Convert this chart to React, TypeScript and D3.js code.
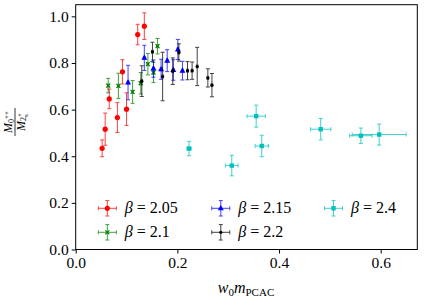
import React, { useEffect, useRef } from "react";
import * as d3 from "d3";

// values
const redX = [0.052, 0.058, 0.066, 0.082, 0.092, 0.1, 0.122, 0.135];
const redY = [0.434, 0.516, 0.646, 0.566, 0.762, 0.602, 0.922, 0.958];
const redErr = [0.036, 0.069, 0.042, 0.064, 0.052, 0.07, 0.044, 0.057];

const greenX = [0.064, 0.084, 0.112, 0.128, 0.142, 0.153, 0.161];
const greenY = [0.703, 0.702, 0.676, 0.713, 0.795, 0.759, 0.872];
const greenErr = [0.031, 0.054, 0.049, 0.046, 0.046, 0.043, 0.033];

const blueX = [0.103, 0.135, 0.153, 0.168, 0.18, 0.192, 0.201, 0.21];
const blueY = [0.716, 0.822, 0.776, 0.773, 0.81, 0.77, 0.858, 0.767];
const blueErr = [0.074, 0.054, 0.037, 0.043, 0.047, 0.044, 0.043, 0.04];

const blackX = [0.13, 0.151, 0.171, 0.191, 0.203, 0.22, 0.229, 0.239, 0.26, 0.268];
const blackY = [0.722, 0.848, 0.742, 0.765, 0.845, 0.767, 0.767, 0.785, 0.736, 0.705];
const blackErr = [0.066, 0.041, 0.104, 0.057, 0.037, 0.039, 0.037, 0.082, 0.039, 0.05];

const cyanX = [0.223, 0.307, 0.355, 0.366, 0.482, 0.561, 0.597];
const cyanY = [0.433, 0.36, 0.572, 0.444, 0.516, 0.488, 0.493];
const cyanErr = [0.031, 0.044, 0.047, 0.046, 0.046, 0.033, 0.045];
const cyanXErr = [0.004, 0.0125, 0.018, 0.013, 0.02, 0.022, 0.053];

const smallXErr = 0.0015;

const xTicks = [0, 0.2, 0.4, 0.6];
const yTicks = [0, 0.2, 0.4, 0.6, 0.8, 1.0];

const series = [
  { beta: "2.05", color: "#ff0000", marker: "o", x: redX, y: redY, ye: redErr, xe: null },
  { beta: "2.1", color: "#008000", marker: "x", x: greenX, y: greenY, ye: greenErr, xe: null },
  { beta: "2.15", color: "#0000ff", marker: "^", x: blueX, y: blueY, ye: blueErr, xe: null },
  { beta: "2.2", color: "#000000", marker: ".", x: blackX, y: blackY, ye: blackErr, xe: null },
  { beta: "2.4", color: "#00bfbf", marker: "s", x: cyanX, y: cyanY, ye: cyanErr, xe: cyanXErr },
];

const font = "'Liberation Serif', 'Times New Roman', serif";
const left = 75.7, right = 417.3, top = 4.7, bottom = 249.5;

const Marker = ({ type, cx, cy, color }) => {
  if (type === "o") return <circle cx={cx} cy={cy} r={2.6} fill={color} />;
  if (type === "x")
    return (
      <path
        d={`M${cx - 2},${cy - 2}L${cx + 2},${cy + 2}M${cx - 2},${cy + 2}L${cx + 2},${cy - 2}`}
        stroke={color}
        strokeWidth={1.2}
      />
    );
  if (type === "^")
    return <path d={`M${cx},${cy - 3.3}L${cx + 3},${cy + 2}L${cx - 3},${cy + 2}Z`} fill={color} />;
  if (type === "s") return <rect x={cx - 2.2} y={cy - 2.2} width={4.4} height={4.4} fill={color} />;
  return <circle cx={cx} cy={cy} r={1.6} fill={color} />;
};

const ErrBar = ({ x0, x1, y0, y1, cx, cy, color }) => {
  const cap = 2;
  return (
    <g stroke={color} strokeWidth={1} opacity={0.75} fill="none">
      <line x1={cx} x2={cx} y1={y0} y2={y1} />
      <line x1={cx - cap} x2={cx + cap} y1={y0} y2={y0} />
      <line x1={cx - cap} x2={cx + cap} y1={y1} y2={y1} />
      <line x1={x0} x2={x1} y1={cy} y2={cy} />
      <line x1={x0} x2={x0} y1={cy - cap} y2={cy + cap} />
      <line x1={x1} x2={x1} y1={cy - cap} y2={cy + cap} />
    </g>
  );
};

const App = () => {
  const xAxisRef = useRef(null);
  const yAxisRef = useRef(null);

  const x = d3.scaleLinear().domain([0, 0.672]).range([left, right]);
  const y = d3.scaleLinear().domain([0, 1.05]).range([bottom, top]);

  useEffect(() => {
    const styleAxis = g => {
      g.select(".domain").remove();
      g.selectAll(".tick line").attr("stroke", "#000").attr("stroke-width", 1);
      g.selectAll(".tick text")
        .attr("fill", "#000")
        .style("font-family", font)
        .style("font-size", "15.5px");
    };
    d3.select(xAxisRef.current)
      .call(d3.axisBottom(x).tickValues(xTicks).tickFormat(d3.format(".1f")).tickSize(4).tickPadding(3))
      .call(styleAxis);
    d3.select(yAxisRef.current)
      .call(d3.axisLeft(y).tickValues(yTicks).tickFormat(d3.format(".1f")).tickSize(4).tickPadding(3))
      .call(styleAxis);
  }, []);

  const legendCols = [107.3, 220.8, 333.5];
  const legendRows = [208.3, 232.3];

  return (
    <svg
      width={424}
      height={303}
      style={{ position: "absolute", left: 0, top: 0, background: "#fff" }}
    >
      <g ref={xAxisRef} transform={`translate(0,${bottom})`} />
      <g ref={yAxisRef} transform={`translate(${left},0)`} />

      {series.map(s => (
        <g key={s.beta}>
          {s.x.map((v, i) => {
            const xe = s.xe ? s.xe[i] : smallXErr;
            return (
              <g key={i}>
                <ErrBar
                  cx={x(v)}
                  cy={y(s.y[i])}
                  x0={x(v - xe)}
                  x1={x(v + xe)}
                  y0={y(s.y[i] + s.ye[i])}
                  y1={y(s.y[i] - s.ye[i])}
                  color={s.color}
                />
                <Marker type={s.marker} cx={x(v)} cy={y(s.y[i])} color={s.color} />
              </g>
            );
          })}
        </g>
      ))}

      {series.map((s, k) => {
        const cx = legendCols[Math.floor(k / 2)];
        const cy = legendRows[k % 2];
        return (
          <g key={s.beta}>
            <ErrBar cx={cx} cy={cy} x0={cx - 9} x1={cx + 9} y0={cy - 7.7} y1={cy + 7.7} color={s.color} />
            <Marker type={s.marker} cx={cx} cy={cy} color={s.color} />
            <text x={cx + 17.5} y={cy + 5} fontFamily={font} fontSize={16} fill="#000">
              <tspan fontStyle="italic">β</tspan>
              <tspan> = {s.beta}</tspan>
            </text>
          </g>
        );
      })}

      <rect
        x={left}
        y={top}
        width={right - left}
        height={bottom - top}
        fill="none"
        stroke="#000"
        strokeWidth={1}
      />

      <text x={246} y={293} textAnchor="middle" fontFamily={font} fontSize={16} fill="#000">
        <tspan fontStyle="italic">w</tspan>
        <tspan fontSize={11} dy={3}>0</tspan>
        <tspan fontStyle="italic" dy={-3}>m</tspan>
        <tspan fontSize={11} dy={3}>PCAC</tspan>
      </text>

      <g transform="translate(15,122) rotate(-90)" fontFamily={font} fill="#000">
        <text x={0} y={-3} textAnchor="middle" fontSize={12}>
          <tspan fontStyle="italic">M</tspan>
          <tspan fontSize={8} dy={2}>0</tspan>
          <tspan fontSize={7} dy={-5}>++</tspan>
        </text>
        <line x1={-14} x2={14} y1={0} y2={0} stroke="#000" strokeWidth={0.8} />
        <text x={0} y={10} textAnchor="middle" fontSize={12}>
          <tspan fontStyle="italic">M</tspan>
          <tspan fontSize={8} dy={1}>2</tspan>
          <tspan fontSize={7} dy={-4}>+</tspan>
          <tspan fontSize={7} dx={-4} dy={6}>s</tspan>
        </text>
      </g>
    </svg>
  );
};

export default App;
